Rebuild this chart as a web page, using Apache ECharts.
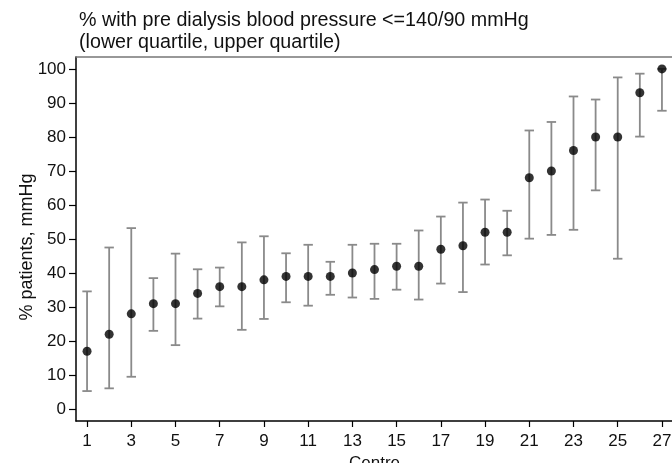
<!DOCTYPE html>
<html>
<head>
<meta charset="utf-8">
<script src="https://cdn.jsdelivr.net/npm/echarts@6/dist/echarts.min.js"></script>
<style>
  html, body { margin: 0; padding: 0; background: #fff; }
  #chart { width: 672px; height: 463px; }
</style>
</head>
<body>
<div id="chart"></div>
<script>
// Centres, ranked by percentage
const centres = [1,2,3,4,5,6,7,8,9,10,11,12,13,14,15,16,17,18,19,20,21,22,23,24,25,26,27];
// % patients with pre-dialysis BP <= 140/90 mmHg
const percent = [17,22,28,31,31,34,36,36,38,39,39,39,40,41,42,42,47,48,52,52,68,70,76,80,80,93,100];
// Lower and upper quartiles
const lowerQ = [5.3,6.1,9.5,23.0,18.8,26.6,30.2,23.3,26.5,31.4,30.4,33.6,32.8,32.4,35.1,32.2,36.9,34.4,42.5,45.2,50.1,51.2,52.7,64.3,44.2,80.1,87.7];
const upperQ = [34.6,47.5,53.2,38.5,45.7,41.1,41.6,49.0,50.8,45.8,48.3,43.3,48.3,48.6,48.6,52.5,56.6,60.7,61.6,58.3,81.9,84.4,91.9,91.0,97.5,98.6,100];
// Tick labels
const xTicks = [1,3,5,7,9,11,13,15,17,19,21,23,25,27];
const yTicks = [0,10,20,30,40,50,60,70,80,90,100];

const FONT = 'Liberation Sans, Arial, sans-serif';
const TXT = '#111';

const points = centres.map((c, i) => [c, percent[i]]);
const bars = centres.map((c, i) => [c, lowerQ[i], upperQ[i]]);

const chart = echarts.init(document.getElementById('chart'), null, { renderer: 'canvas' });
chart.setOption({
  animation: false,
  backgroundColor: '#fff',
  title: {
    text: '% with pre dialysis blood pressure <=140/90 mmHg\n(lower quartile, upper quartile)',
    left: 79, top: 9, padding: 0,
    textStyle: { fontFamily: FONT, fontSize: 19.7, fontWeight: 'normal', color: TXT, lineHeight: 22.5 }
  },
  graphic: [{
    type: 'text',
    x: 27, y: 247,
    rotation: Math.PI / 2,
    style: {
      text: '% patients, mmHg',
      fontFamily: FONT, fontSize: 18, fill: TXT,
      align: 'center', verticalAlign: 'middle'
    }
  }],
  grid: {
    left: 76, top: 57, width: 597, height: 364,
    containLabel: false, outerBoundsMode: 'none'
  },
  xAxis: [{
    type: 'value', min: 0.5, max: 27.5,
    name: 'Centre', nameLocation: 'middle', nameGap: 31,
    nameTextStyle: { fontFamily: FONT, fontSize: 17, color: TXT },
    axisLine: { show: true, onZero: false, lineStyle: { color: '#000', width: 1.5 } },
    axisTick: { show: true, length: 6, customValues: xTicks, lineStyle: { color: '#000', width: 1.2 } },
    axisLabel: { customValues: xTicks, margin: 12, fontFamily: FONT, fontSize: 17, color: TXT },
    splitLine: { show: false }
  }, {
    type: 'value', position: 'top', min: 0.5, max: 27.5,
    axisLine: { show: true, onZero: false, lineStyle: { color: '#777', width: 1.5 } },
    axisTick: { show: false }, axisLabel: { show: false }, splitLine: { show: false }
  }],
  yAxis: {
    type: 'value', min: -3.5, max: 103.5,
    axisLine: { show: true, onZero: false, lineStyle: { color: '#000', width: 1.5 } },
    axisTick: { show: true, length: 7, customValues: yTicks, lineStyle: { color: '#000', width: 1.2 } },
    axisLabel: { customValues: yTicks, margin: 10, fontFamily: FONT, fontSize: 17, color: TXT },
    splitLine: { show: false }
  },
  series: [{
    type: 'custom',
    data: bars,
    encode: { x: 0, y: [1, 2] },
    clip: false,
    renderItem: function (params, api) {
      const x = api.value(0);
      const lo = api.coord([x, api.value(1)]);
      const hi = api.coord([x, api.value(2)]);
      const hw = 4.7;
      const style = { stroke: '#8a8a8a', lineWidth: 1.8 };
      return {
        type: 'group',
        children: [
          { type: 'line', shape: { x1: lo[0], y1: lo[1], x2: hi[0], y2: hi[1] }, style },
          { type: 'line', shape: { x1: lo[0] - hw, y1: lo[1], x2: lo[0] + hw, y2: lo[1] }, style },
          { type: 'line', shape: { x1: hi[0] - hw, y1: hi[1], x2: hi[0] + hw, y2: hi[1] }, style }
        ]
      };
    },
    z: 2
  }, {
    type: 'scatter',
    data: points,
    symbol: 'circle',
    symbolSize: 9,
    itemStyle: { color: '#000' },
    clip: false,
    z: 3
  }]
});
</script>
</body>
</html>
